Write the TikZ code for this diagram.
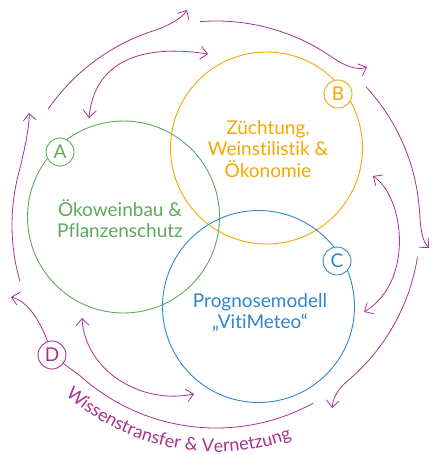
\documentclass[tikz,border=0pt]{standalone}
\usepackage{fontspec}
\setmainfont{Lato}[Ligatures={NoCommon}]
\usetikzlibrary{arrows.meta,decorations.text,calc}
\definecolor{cgreen}{HTML}{5BAA5B}
\definecolor{corange}{HTML}{F5A700}
\definecolor{cblue}{HTML}{2D87CC}
\definecolor{cmag}{HTML}{A83193}
\begin{document}
\begin{tikzpicture}[x=1pt,y=-1pt,
  bigc/.style={circle, draw, line width=0.9pt, minimum size=192pt, inner sep=0pt},
  lab/.style={circle, fill=white, line width=0.9pt, minimum size=28pt, inner sep=0pt, font=\fontsize{19}{19}\selectfont},
  body/.style={align=center, font=\fontsize{19}{21.5}\selectfont},
  flow/.style={cmag, line width=0.8pt, -{Straight Barb[length=7pt,width=13pt]}},
  link/.style={cmag, line width=0.8pt, {Straight Barb[length=7pt,width=13pt]}-{Straight Barb[length=7pt,width=13pt]}}
]
\useasboundingbox (0,0) rectangle (431,455);
\coordinate (O) at (216,225);

% big circles
\node[bigc, cgreen] (cA) at (123.5,217) {};
\node[bigc, corange] (cB) at (266.5,148) {};
\node[bigc, cblue] (cC) at (258.5,306.5) {};

% texts
\node[body, text=cgreen] (tA) at (120,218.5) {Ökoweinbau \&\\Pflanzenschutz};
\node[body, text=corange] (tB) at (268,149) {Züchtung,\\Weinstilistik \&\\Ökonomie};
\node[body, text=cblue] (tC) at (260,312.5) {Prognosemodell\\„VitiMeteo“};

% outer ring arrows
\coordinate (t1) at (29,113);
\coordinate (t2) at (187,10);
\coordinate (t3) at (367,67);
\coordinate (t4) at (429,248);
\coordinate (t5) at (332,408);
\coordinate (t6) at (11,297);
\coordinate (Dpos) at (52,355);

\draw[flow] ($(O)+(164:204)$) arc[start angle=164, end angle=195, radius=204]
  .. controls (23.6,154.8) and (30,124) .. (t1);
\draw[flow] ($(O)+(214.6:204)$) arc[start angle=214.6, end angle=252, radius=204]
  .. controls (166.3,26.7) and (182,18.7) .. (t2);
\draw[flow] ($(O)+(265.5:204)$) arc[start angle=265.5, end angle=305, radius=204]
  .. controls (344.5,65.9) and (357.8,70.8) .. (t3);
\draw[flow] ($(O)+(317.4:204)$) arc[start angle=317.4, end angle=357, radius=204]
  .. controls (420.5,228.3) and (422,241) .. (t4);
\draw[flow] ($(O)+(9.1:204)$) arc[start angle=9.1, end angle=50, radius=204]
  .. controls (337.9,389) and (333,398) .. (t5);
\draw[flow] ($(O)+(61.5:203)$) arc[start angle=61.5, end angle=132, radius=203]
  .. controls (72.1,369.9) and (60,361) .. (Dpos)
  .. controls (46,333) and (32,302) .. (t6);

% inner double arrows
\coordinate (l1a) at (89,118);
\coordinate (l1b) at (208,54);
\coordinate (l2a) at (373,176);
\coordinate (l2b) at (364,312);
\coordinate (l3a) at (82,318);
\coordinate (l3b) at (194,394);
\draw[link] (l1a) .. controls (96,45) and (170,48) .. (l1b);
\draw[link] (l2a) .. controls (405,198) and (414,282) .. (l2b);
\draw[link] (l3a) .. controls (85,370) and (140,405) .. (l3b);

% curved label
\path[decorate, decoration={text along path, text align=center,
  text={|\fontsize{18}{18}\selectfont\color{cmag}|Wissenstransfer {\&} Vernetzung}}]
  ($(O)+(146:227)$) arc[start angle=146, end angle=56, radius=227];

% letter badges
\node[lab, draw=cgreen, text=cgreen] (A) at (60,152) {A};
\node[lab, draw=corange, text=corange] (B) at (338,94) {B};
\node[lab, draw=cblue, text=cblue] (C) at (337,261) {C};
\node[lab, draw=cmag, text=cmag] (D) at (Dpos) {D};
\end{tikzpicture}
\end{document}
